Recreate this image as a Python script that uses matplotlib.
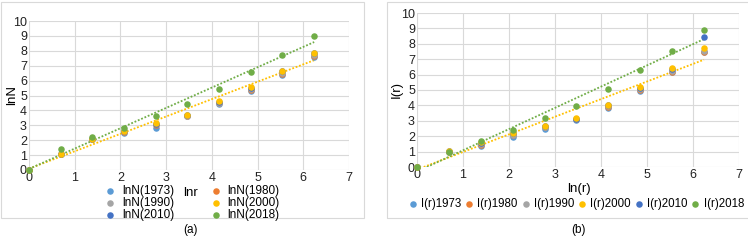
import numpy as np
import matplotlib.pyplot as plt
from matplotlib.patches import Rectangle

plt.rcParams['font.family'] = ['Liberation Sans', 'DejaVu Sans']
plt.rcParams['font.size'] = 8

# ln(r) for r = 1, 2, 4, ... 512
lnr = [0, 0.693, 1.386, 2.079, 2.773, 3.466, 4.159, 4.852, 5.545, 6.238]
years = ["1973", "1980", "1990", "2000", "2010", "2018"]
colors = ["#5B9BD5", "#ED7D31", "#A5A5A5", "#FFC000", "#4472C4", "#70AD47"]
# draw order: 2010 sits under 2000 where they coincide
draw_order = [0, 1, 2, 4, 3, 5]

# panel (a): lnN
lnN_1973 = [0, 1.05, 2.05, 2.50, 2.85, 3.60, 4.45, 5.30, 6.40, 7.60]
lnN_1980 = [0, 1.05, 2.05, 2.55, 3.00, 3.65, 4.50, 5.40, 6.45, 7.65]
lnN_1990 = [0, 1.08, 2.05, 2.60, 3.10, 3.65, 4.50, 5.45, 6.50, 7.70]
lnN_2000 = [0, 1.10, 2.05, 2.65, 3.15, 3.70, 4.60, 5.55, 6.65, 7.85]
lnN_2010 = [0, 1.10, 2.05, 2.62, 3.12, 3.70, 4.56, 5.52, 6.62, 7.82]
lnN_2018 = [0, 1.40, 2.20, 2.85, 3.60, 4.45, 5.45, 6.60, 7.75, 9.00]

# panel (b): I(r)
Ir_1973 = [0, 1.00, 1.35, 1.95, 2.50, 3.05, 3.85, 4.95, 6.15, 7.45]
Ir_1980 = [0, 1.00, 1.45, 2.05, 2.60, 3.10, 3.90, 5.00, 6.20, 7.50]
Ir_1990 = [0, 1.00, 1.50, 2.10, 2.60, 3.10, 3.95, 5.05, 6.25, 7.55]
Ir_2000 = [0, 1.05, 1.60, 2.20, 2.65, 3.15, 4.05, 5.20, 6.40, 7.70]
Ir_2010 = [0, 1.02, 1.58, 2.18, 2.64, 3.12, 4.02, 5.15, 6.35, 8.45]
Ir_2018 = [0, 1.00, 1.70, 2.40, 3.20, 3.95, 5.05, 6.30, 7.55, 8.90]

series_a = [lnN_1973, lnN_1980, lnN_1990, lnN_2000, lnN_2010, lnN_2018]
series_b = [Ir_1973, Ir_1980, Ir_1990, Ir_2000, Ir_2010, Ir_2018]

W, H = 748, 241
fig = plt.figure(figsize=(W / 100, H / 100), dpi=100)


def px_axes(x0, y0, x1, y1):
    return fig.add_axes([x0 / W, 1 - y1 / H, (x1 - x0) / W, (y1 - y0) / H])


def style(ax):
    ax.set_xlim(0, 7)
    ax.set_ylim(0, 10)
    ax.set_xticks(range(0, 8))
    ax.set_yticks(range(0, 11))
    ax.grid(True, color="#D9D9D9", linewidth=0.8)
    ax.set_axisbelow(True)
    for s in ax.spines.values():
        s.set_visible(False)
    ax.tick_params(length=0, pad=1.5, colors="#222222", labelsize=9)


def draw(ax, series, labels):
    handles = [None] * len(series)
    for i in draw_order:
        handles[i] = ax.scatter(lnr, series[i], s=22, color=colors[i], label=labels[i],
                                zorder=3, linewidths=0, clip_on=False)
    x = np.array(lnr)
    for ys, c in [(series[3], "#FFC000"), (series[5], "#70AD47")]:
        k, b = np.polyfit(x, ys, 1)
        ax.plot(x[[0, -1]], k * x[[0, -1]] + b, ls=(0, (1, 1)), color=c, lw=1.3, zorder=2)
    return handles


# panel borders
fig.patches.append(Rectangle((1 / W, 1 - 218 / H), 363 / W, 216 / H, transform=fig.transFigure,
                             fill=False, edgecolor="#D9D9D9", lw=0.8))
fig.patches.append(Rectangle((387 / W, 1 - 218 / H), 370 / W, 216 / H, transform=fig.transFigure,
                             fill=False, edgecolor="#D9D9D9", lw=0.8))

# (a)
ax1 = px_axes(29, 21, 349, 170)
style(ax1)
h1 = draw(ax1, series_a, ["lnN(" + y + ")" for y in years])
fig.text(12 / W, 1 - 95 / H, "lnN", fontsize=9.5, rotation=90, ha="center", va="center")
fig.text(190 / W, 1 - 193 / H, "lnr", fontsize=9.5, ha="center", va="center")
order = [0, 2, 4, 1, 3, 5]
fig.legend([h1[i] for i in order], [h1[i].get_label() for i in order], ncol=2,
           loc="center", bbox_to_anchor=(192 / W, 1 - 203 / H), frameon=False,
           fontsize=8.5, handletextpad=0.5, columnspacing=3.0, labelspacing=0.0,
           handlelength=1.0, borderaxespad=0, borderpad=0)
fig.text(190 / W, 1 - 230 / H, "(a)", fontsize=8.5, ha="center", va="center")

# (b)
ax2 = px_axes(417, 13, 739, 167)
style(ax2)
h2 = draw(ax2, series_b, ["I(r)" + y for y in years])
fig.text(397 / W, 1 - 90 / H, "I(r)", fontsize=9.5, rotation=90, ha="center", va="center")
fig.text(579 / W, 1 - 189 / H, "ln(r)", fontsize=9.5, ha="center", va="center")
fig.legend(h2, [h.get_label() for h in h2], ncol=6, loc="center",
           bbox_to_anchor=(576 / W, 1 - 204 / H), frameon=False, fontsize=8.3,
           handletextpad=0.3, columnspacing=0.3, handlelength=0.8, borderaxespad=0, borderpad=0)
fig.text(579 / W, 1 - 230 / H, "(b)", fontsize=8.5, ha="center", va="center")

fig.savefig("out.png", dpi=100)
